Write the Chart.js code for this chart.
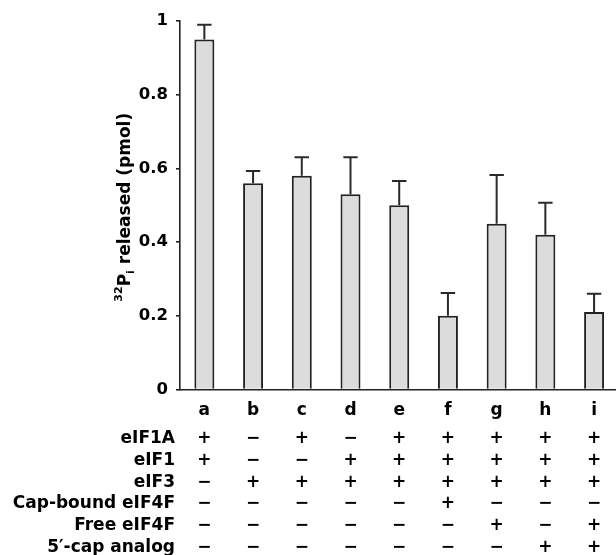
<!DOCTYPE html>
<html>
<head>
<meta charset="utf-8">
<script src="https://cdn.jsdelivr.net/npm/chart.js@4/dist/chart.umd.min.js"></script>
<style>
  html, body { margin: 0; padding: 0; background: #ffffff; }
  #wrap { width: 616px; height: 555px; }
</style>
</head>
<body>
<div id="wrap"><canvas id="c" width="616" height="555"></canvas></div>
<script>
// ---- data ----
const categories = ['a', 'b', 'c', 'd', 'e', 'f', 'g', 'h', 'i'];
const releasedPmol = [0.95, 0.56, 0.58, 0.53, 0.50, 0.20, 0.45, 0.42, 0.21];
const errorTop     = [0.99, 0.593, 0.63, 0.63, 0.566, 0.262, 0.582, 0.507, 0.26];
const yTicks = [0, 0.2, 0.4, 0.6, 0.8, 1];

// y-axis title pieces: superscript, main, subscript, rest
const yTitleParts = [
  { text: '32', kind: 'sup' },
  { text: 'P', kind: 'main' },
  { text: 'i', kind: 'sub' },
  { text: ' released (pmol)', kind: 'main' }
];

const rowNames = ['eIF1A', 'eIF1', 'eIF3', 'Cap-bound eIF4F', 'Free eIF4F', '5\u2032-cap analog'];
const P = '+', M = '\u2212';
const rowEIF1A   = [P, M, P, M, P, P, P, P, P];
const rowEIF1    = [P, M, M, P, P, P, P, P, P];
const rowEIF3    = [M, P, P, P, P, P, P, P, P];
const rowCapBound= [M, M, M, M, M, P, M, M, M];
const rowFree    = [M, M, M, M, M, M, P, M, P];
const rowCapAnal = [M, M, M, M, M, M, M, P, P];
const signRows = [rowEIF1A, rowEIF1, rowEIF3, rowCapBound, rowFree, rowCapAnal];

const FONT = "'DejaVu Sans', sans-serif";
const INK = '#222222';
const TXT = '#000000';

const errorBarPlugin = {
  id: 'errorBars',
  afterDatasetsDraw(chart) {
    const {ctx, scales: {x, y}} = chart;
    ctx.save();
    ctx.strokeStyle = '#2a2a2a';
    ctx.lineWidth = 2;
    releasedPmol.forEach((v, i) => {
      const px = x.getPixelForValue(i);
      const y0 = y.getPixelForValue(v);
      const y1 = y.getPixelForValue(errorTop[i]);
      ctx.beginPath();
      ctx.moveTo(px, y0);
      ctx.lineTo(px, y1);
      ctx.moveTo(px - 7.2, y1);
      ctx.lineTo(px + 7.2, y1);
      ctx.stroke();
    });
    ctx.restore();
  }
};

const yTitlePlugin = {
  id: 'yTitle',
  afterDraw(chart) {
    const {ctx, chartArea} = chart;
    const main = 'bold 17px ' + FONT, small = 'bold 11px ' + FONT;
    ctx.save();
    const widths = yTitleParts.map(p => {
      ctx.font = p.kind === 'main' ? main : small;
      return ctx.measureText(p.text).width;
    });
    const total = widths.reduce((a, b) => a + b, 0);
    const cy = (chartArea.top + chartArea.bottom) / 2 + 2;
    ctx.translate(130, cy);
    ctx.rotate(-Math.PI / 2);
    ctx.fillStyle = TXT;
    ctx.textBaseline = 'alphabetic';
    ctx.textAlign = 'left';
    let xpos = -total / 2;
    yTitleParts.forEach((p, k) => {
      ctx.font = p.kind === 'main' ? main : small;
      const dy = p.kind === 'sup' ? -8 : (p.kind === 'sub' ? 3.5 : 0);
      ctx.fillText(p.text, xpos, dy);
      xpos += widths[k];
    });
    ctx.restore();
  }
};

const tablePlugin = {
  id: 'conditionTable',
  afterDraw(chart) {
    const {ctx, scales: {x}} = chart;
    const fs = 17;
    const firstRow = 437.2, rowStep = 21.7;
    ctx.save();
    ctx.fillStyle = TXT;
    ctx.font = 'bold ' + fs + 'px ' + FONT;
    ctx.textBaseline = 'alphabetic';
    rowNames.forEach((name, r) => {
      const base = firstRow + r * rowStep + fs * 0.36;
      ctx.textAlign = 'right';
      ctx.fillText(name, 175, base);
      ctx.textAlign = 'center';
      signRows[r].forEach((s, i) => {
        ctx.fillText(s, x.getPixelForValue(i), base);
      });
    });
    ctx.restore();
  }
};

new Chart(document.getElementById('c'), {
  type: 'bar',
  data: {
    datasets: [{
      data: releasedPmol.map((v, i) => ({x: i, y: v})),
      backgroundColor: '#dcdcdc',
      borderColor: INK,
      borderWidth: 2,
      categoryPercentage: 1,
      barPercentage: 0.41
    }]
  },
  options: {
    responsive: false,
    animation: false,
    devicePixelRatio: 1,
    layout: { padding: { top: 21, left: 0, right: 0, bottom: 0 } },
    plugins: { legend: { display: false }, tooltip: { enabled: false } },
    scales: {
      x: {
        type: 'linear',
        position: 'bottom',
        offset: false,
        min: -0.5,
        max: 8.45,
        grid: { display: false, drawTicks: false, offset: false },
        border: { display: true, color: INK, width: 1.6 },
        ticks: {
          stepSize: 1,
          includeBounds: false,
          autoSkip: false,
          maxRotation: 0,
          padding: 11,
          color: TXT,
          font: { family: FONT, size: 17, weight: 'bold' },
          callback: (v) => categories[v] !== undefined ? categories[v] : ''
        },
        afterFit: (s) => { s.height = 165.5; }
      },
      y: {
        min: 0,
        max: 1,
        grid: { drawOnChartArea: false, drawTicks: true, tickLength: 4, color: INK, lineWidth: 1.6 },
        border: { display: true, color: INK, width: 1.6 },
        afterBuildTicks: (s) => { s.ticks = yTicks.map(v => ({value: v})); },
        ticks: {
          padding: 8,
          color: TXT,
          font: { family: FONT, size: 16.5, weight: 'bold' },
          callback: (v) => (v === 0 || v === 1) ? String(v) : v.toFixed(1)
        },
        title: { display: false },
        afterFit: (s) => { s.width = 180; }
      }
    }
  },
  plugins: [errorBarPlugin, yTitlePlugin, tablePlugin]
});
</script>
</body>
</html>
